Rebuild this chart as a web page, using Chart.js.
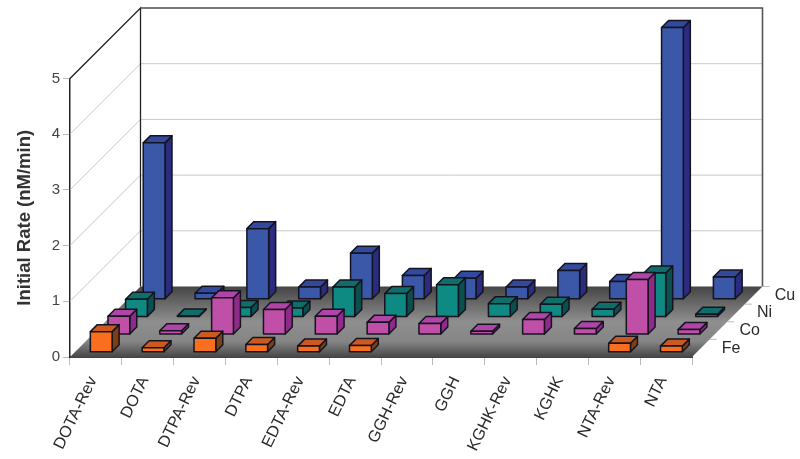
<!DOCTYPE html>
<html>
<head>
<meta charset="utf-8">
<title>Initial Rate</title>
<script src="https://cdn.jsdelivr.net/npm/chart.js@4/dist/chart.umd.js"></script>
<style>
  html, body { margin: 0; padding: 0; background: #fff; }
  canvas { display: block; }
</style>
</head>
<body>
<canvas id="rateChart" width="800" height="459"></canvas>
<script>
// --- Data, null = no bar drawn ---
const categories = ["DOTA-Rev", "DOTA", "DTPA-Rev", "DTPA", "EDTA-Rev", "EDTA", "GGH-Rev", "GGH", "KGHK-Rev", "KGHK", "NTA-Rev", "NTA"];
const fe = [0.36, 0.07, 0.24, 0.13, 0.10, 0.11, null, null, null, null, 0.15, 0.10];
const co = [0.32, 0.06, 0.65, 0.44, 0.32, 0.21, 0.19, 0.05, 0.26, 0.10, 0.98, 0.08];
const ni = [0.31, 0.01, 0.16, 0.15, 0.53, 0.41, 0.57, 0.23, 0.22, 0.13, 0.78, 0.04];
const cu = [2.80, 0.10, 1.26, 0.21, 0.82, 0.42, 0.37, 0.21, 0.51, 0.31, 4.87, 0.39];
const seriesNames = ["Fe", "Co", "Ni", "Cu"];

// --- Look of the fake 3D box: front, top, side ---
const palette = {
  Fe: ["#f96f1f", "#cc5a20", "#7f3f12"],
  Co: ["#c04fa8", "#b044a8", "#8f2a8a"],
  Ni: ["#0e8a82", "#0f6e6a", "#0b4f4e"],
  Cu: ["#3b57a8", "#3349a0", "#2b2b7f"]
};
const FONT = "'Liberation Sans', Arial, sans-serif";
const FLOOR_DEPTH = 70.5;   // how far the floor runs back, same in x and y
const BOX_DEPTH = 7;
const BAR_SHARE = 0.42;     // bar width as a share of a category

// Bar controller that draws each value as a box, one depth slot per dataset
class Box3dController extends Chart.BarController {
  draw() {
    const meta = this.getMeta();
    const xs = meta.xScale, ys = meta.yScale;
    const ctx = this.chart.ctx;
    const colors = palette[this.getDataset().label];
    const slot = FLOOR_DEPTH / seriesNames.length;
    const shift = (this.index + 0.5) * slot - BOX_DEPTH / 2;
    const w = (xs.width / categories.length) * BAR_SHARE;
    const d = BOX_DEPTH;

    ctx.save();
    ctx.lineWidth = 1.5;
    ctx.lineJoin = "round";
    ctx.strokeStyle = "#14141f";
    const poly = (pts, fill) => {
      ctx.beginPath();
      pts.forEach((p, i) => i ? ctx.lineTo(p[0], p[1]) : ctx.moveTo(p[0], p[1]));
      ctx.closePath();
      ctx.fillStyle = fill;
      ctx.fill();
      ctx.stroke();
    };
    for (let i = 0; i < categories.length; i++) {
      const val = this.getParsed(i).y;
      if (val === null || isNaN(val)) continue;
      const left = xs.getPixelForValue(i) + shift - w / 2;
      const right = left + w;
      const bottom = ys.getPixelForValue(0) - shift;
      const top = ys.getPixelForValue(val) - shift;
      poly([[right, top], [right + d, top - d], [right + d, bottom - d], [right, bottom]], colors[2]);
      poly([[left, top], [left + d, top - d], [right + d, top - d], [right, top]], colors[1]);
      poly([[left, top], [right, top], [right, bottom], [left, bottom]], colors[0]);
    }
    ctx.restore();
  }
}
Box3dController.id = "box3d";
Box3dController.defaults = Chart.BarController.defaults;
Chart.register(Box3dController);

// --- Walls, floor and the depth axis, all hung off the real scales ---
const wallsPlugin = {
  id: "walls",
  beforeDatasetsDraw(chart) {
    const { ctx, scales: { x, y } } = chart;
    const D = FLOOR_DEPTH;
    const x0 = x.left, x1 = x.right;
    const y0 = y.getPixelForValue(0), yTop = y.top;

    ctx.save();
    // floor
    const floor = ctx.createLinearGradient(0, y0 - D, 0, y0);
    floor.addColorStop(0, "#454545");
    floor.addColorStop(0.5, "#8f8f8f");
    floor.addColorStop(0.78, "#858585");
    floor.addColorStop(1, "#474747");
    ctx.beginPath();
    ctx.moveTo(x0, y0);
    ctx.lineTo(x0 + D, y0 - D);
    ctx.lineTo(x1 + D, y0 - D);
    ctx.lineTo(x1, y0);
    ctx.closePath();
    ctx.fillStyle = floor;
    ctx.fill();

    // grid lines on the side wall and back wall
    ctx.strokeStyle = "#c9c9c9";
    ctx.lineWidth = 1;
    y.ticks.forEach(t => {
      if (t.value === 0) return;
      const py = y.getPixelForValue(t.value);
      ctx.beginPath();
      ctx.moveTo(x0, py);
      ctx.lineTo(x0 + D, py - D);
      ctx.lineTo(x1 + D, py - D);
      ctx.stroke();
    });

    // wall edges
    ctx.strokeStyle = "#222";
    ctx.lineWidth = 1.3;
    ctx.beginPath();
    ctx.moveTo(x0, yTop);
    ctx.lineTo(x0 + D, yTop - D);
    ctx.lineTo(x0 + D, y0 - D);
    ctx.stroke();
    ctx.strokeStyle = "#555";
    ctx.lineWidth = 1.6;
    ctx.beginPath();
    ctx.moveTo(x0 + D, yTop - D);
    ctx.lineTo(x1 + D, yTop - D);
    ctx.lineTo(x1 + D, y0 - D);
    ctx.stroke();

    // depth axis: tick marks and series names
    const slot = D / seriesNames.length;
    ctx.font = "16px " + FONT;
    ctx.fillStyle = "#2a2a2a";
    ctx.textBaseline = "middle";
    ctx.textAlign = "left";
    seriesNames.forEach((name, i) => {
      const tx = x1 + slot * (i + 1), ty = y0 - slot * (i + 1);
      ctx.strokeStyle = "#bbb";
      ctx.lineWidth = 1;
      ctx.beginPath();
      ctx.moveTo(tx, ty);
      ctx.lineTo(tx + 7, ty);
      ctx.stroke();
      ctx.fillText(name, x1 + slot * (i + 0.5) + 21, y0 - slot * (i + 0.5));
    });
    ctx.restore();
  }
};

// Fe goes first because Chart.js paints the first dataset last (on top)
const seriesValues = [fe, co, ni, cu];
new Chart(document.getElementById("rateChart"), {
  type: "box3d",
  data: {
    labels: categories,
    datasets: seriesNames.map((name, i) => ({ label: name, data: seriesValues[i], clip: false }))
  },
  options: {
    responsive: false,
    animation: false,
    events: [],
    layout: { padding: { left: 0, right: 108, top: 78.5, bottom: 0 } },
    plugins: { legend: { display: false }, tooltip: { enabled: false } },
    scales: {
      x: {
        type: "category",
        offset: true,
        afterFit: s => { s.height = 102; },
        grid: { offset: true, drawOnChartArea: false, tickLength: 8, tickColor: "#bbb" },
        border: { color: "#444", width: 2 },
        ticks: {
          autoSkip: false,
          minRotation: 64,
          maxRotation: 64,
          padding: 8.5,
          labelOffset: -3,
          color: "#2a2a2a",
          font: { family: FONT, size: 16.3 }
        }
      },
      y: {
        type: "linear",
        min: 0,
        max: 5,
        afterFit: s => { s.width = 70; },
        grid: { drawOnChartArea: false, tickLength: 7, tickColor: "#bbb" },
        border: { color: "#222", width: 1.5 },
        ticks: { stepSize: 1, padding: 3, color: "#444", font: { family: FONT, size: 15 } },
        title: {
          display: true,
          text: "Initial Rate (nM/min)",
          color: "#333",
          padding: { top: 14, bottom: 0 },
          font: { family: FONT, size: 18.5, weight: "bold" }
        }
      }
    }
  },
  plugins: [wallsPlugin]
});
</script>
</body>
</html>
